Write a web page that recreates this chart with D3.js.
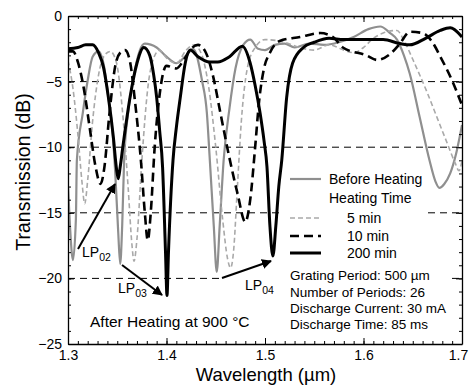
<!DOCTYPE html>
<html><head><meta charset="utf-8">
<script src="https://cdn.jsdelivr.net/npm/d3@7"></script>
<style>body{margin:0;background:#fff}svg{display:block}text{font-family:"Liberation Sans",Arial,sans-serif}</style>
</head><body>
<svg id="c" width="469" height="385"></svg>
<script>
const xTicks=[1.3,1.4,1.5,1.6,1.7];
const yTicks=[0,-5,-10,-15,-20,-25];
const gridLevels=[-5,-10,-15,-20];
const beforeHeating=[[1.300,-13],[1.302,-16],[1.305,-18.6],[1.308,-15.5],[1.309,-11],[1.315,-7.4],[1.32,-4.9],[1.325,-3.1],[1.331,-2.7],[1.336,-3.6],[1.341,-6.2],[1.345,-8.7],[1.348,-12],[1.351,-16.5],[1.353,-18.9],[1.355,-16],[1.357,-11],[1.361,-7.4],[1.366,-4.9],[1.373,-2.6],[1.378,-2.1],[1.39,-2.4],[1.40,-3.1],[1.41,-3.6],[1.42,-3.0],[1.427,-2.5],[1.436,-4.9],[1.441,-7.4],[1.444,-11],[1.448,-16],[1.451,-19.5],[1.454,-16],[1.458,-11],[1.464,-7],[1.47,-4.0],[1.478,-2.2],[1.485,-1.8],[1.493,-2.5],[1.50,-2.6],[1.51,-2.2],[1.52,-2.1],[1.53,-2.4],[1.545,-2.1],[1.56,-2.2],[1.575,-2.0],[1.59,-1.6],[1.605,-1.0],[1.617,-0.8],[1.627,-1.3],[1.634,-1.8],[1.641,-3.0],[1.647,-4.4],[1.657,-7.7],[1.667,-11],[1.673,-12.6],[1.677,-13.1],[1.682,-12.8],[1.688,-12],[1.694,-10.5],[1.70,-8.3]];
const min5=[[1.300,-3.4],[1.305,-5.5],[1.31,-9],[1.314,-12.5],[1.317,-14.3],[1.32,-12.5],[1.325,-8],[1.331,-4.5],[1.337,-3.0],[1.343,-2.7],[1.349,-3.5],[1.355,-7],[1.361,-13],[1.365,-17.5],[1.367,-18.7],[1.370,-17],[1.375,-11],[1.381,-5.5],[1.387,-3.2],[1.393,-2.6],[1.40,-3.2],[1.41,-3.6],[1.42,-2.6],[1.428,-2.2],[1.436,-3.0],[1.443,-5.5],[1.45,-10],[1.457,-15.5],[1.462,-18.5],[1.465,-19.2],[1.468,-18],[1.472,-13],[1.476,-8],[1.482,-4],[1.49,-2.4],[1.50,-1.8],[1.52,-2.0],[1.535,-2.4],[1.55,-2.6],[1.565,-2.2],[1.58,-2.6],[1.59,-2.8],[1.60,-2.4],[1.61,-1.7],[1.62,-1.3],[1.634,-1.1],[1.64,-1.7],[1.65,-3.3],[1.665,-5.9],[1.675,-7.8],[1.685,-9.7],[1.693,-11.2],[1.697,-11.8],[1.70,-11]];
const min10=[[1.300,-2.7],[1.305,-2.7],[1.31,-3.5],[1.316,-5.5],[1.322,-8.5],[1.328,-11.5],[1.333,-12.8],[1.337,-11.5],[1.342,-7.5],[1.348,-3.8],[1.353,-2.8],[1.358,-2.6],[1.363,-3.5],[1.368,-6.5],[1.374,-11],[1.378,-15],[1.381,-17.1],[1.384,-15],[1.388,-10],[1.393,-6],[1.40,-3.8],[1.41,-4.0],[1.418,-3.3],[1.425,-2.5],[1.432,-2.2],[1.44,-2.8],[1.447,-4.5],[1.455,-7.5],[1.463,-10.5],[1.472,-13.5],[1.48,-15.7],[1.485,-14],[1.49,-10],[1.494,-6.5],[1.499,-4],[1.505,-2.8],[1.515,-1.9],[1.5355,-1.6],[1.556,-1.3],[1.569,-1.6],[1.579,-2.4],[1.603,-3.0],[1.614,-3.35],[1.627,-2.9],[1.637,-2.1],[1.647,-1.2],[1.66,-1.3],[1.67,-2.0],[1.678,-3.1],[1.691,-5.1],[1.70,-6.8]];
const min200=[[1.300,-2.5],[1.31,-2.4],[1.318,-2.2],[1.325,-2.2],[1.331,-2.8],[1.336,-3.9],[1.341,-6.2],[1.346,-9.2],[1.349,-11.5],[1.351,-12.4],[1.353,-11.5],[1.356,-9.8],[1.363,-6.2],[1.37,-3.6],[1.377,-2.4],[1.383,-3.0],[1.387,-4.5],[1.39,-6.2],[1.393,-8.7],[1.396,-11.5],[1.399,-18],[1.4005,-21.3],[1.402,-18],[1.4066,-11],[1.41,-8.5],[1.414,-6.2],[1.419,-3.6],[1.424,-2.6],[1.432,-3.1],[1.444,-3.5],[1.452,-3.5],[1.464,-3.1],[1.477,-2.3],[1.485,-3.6],[1.49,-5.3],[1.495,-7.4],[1.499,-9.5],[1.502,-11.5],[1.505,-16],[1.508,-18.3],[1.511,-16],[1.514,-13],[1.517,-11],[1.522,-6.2],[1.528,-3.6],[1.539,-2.4],[1.55,-2.0],[1.565,-1.7],[1.58,-1.8],[1.60,-1.8],[1.62,-1.8],[1.637,-2.1],[1.647,-2.2],[1.663,-1.7],[1.678,-1.1],[1.688,-0.9],[1.70,-1.6]];
const legendLabels=["Before Heating","Heating Time","5 min","10 min","200 min"];
const infoLines=["Grating Period: 500 \u00b5m","Number of Periods: 26","Discharge Current: 30 mA","Discharge Time: 85 ms"];

const svg=d3.select("#c");
const x=d3.scaleLinear().domain([1.3,1.7]).range([68,462]);
const y=d3.scaleLinear().domain([-25,0]).range([344,16]);

// grid
svg.append("g").selectAll("line").data(gridLevels).join("line")
 .attr("x1",x(1.3)).attr("x2",x(1.7)).attr("y1",d=>y(d)).attr("y2",d=>y(d))
 .attr("stroke","#000").attr("stroke-width",1).attr("stroke-dasharray","7,5");
// white legend background boxes
svg.append("rect").attr("x",283).attr("y",166).attr("width",145).attr("height",100).attr("fill","#fff");
svg.append("rect").attr("x",283).attr("y",264).attr("width",168).attr("height",70).attr("fill","#fff");
svg.append("rect").attr("x",223).attr("y",272).attr("width",62).attr("height",26).attr("fill","#fff");

const line=d3.line().x(d=>x(d[0])).y(d=>y(d[1])).curve(d3.curveMonotoneX);
const series=[
 {d:beforeHeating,c:"#8f8f8f",w:2.2,da:null},
 {d:min5,c:"#a9a9a9",w:1.6,da:"5,3"},
 {d:min10,c:"#000",w:2.6,da:"9,5"},
 {d:min200,c:"#000",w:3,da:null}
];
svg.append("clipPath").attr("id","pc").append("rect").attr("x",68).attr("y",16).attr("width",394).attr("height",328);
svg.append("g").attr("clip-path","url(#pc)").selectAll("path").data(series).join("path")
 .attr("d",s=>line(s.d)).attr("fill","none").attr("stroke",s=>s.c).attr("stroke-width",s=>s.w)
 .attr("stroke-dasharray",s=>s.da).attr("stroke-linejoin","round");

// axes
const fmt=d3.format(".1f");
const minorX=d3.range(1.3,1.7001,0.01).map(v=>+v.toFixed(2));
const minorY=d3.range(-25,0.001,1);
svg.append("g").attr("transform","translate(0,344)").call(d3.axisBottom(x).tickValues(minorX).tickFormat("").tickSize(-3)).call(g=>g.select(".domain").remove());
svg.append("g").attr("transform","translate(0,16)").call(d3.axisTop(x).tickValues(minorX).tickFormat("").tickSize(-3)).call(g=>g.select(".domain").remove());
svg.append("g").attr("transform","translate(68,0)").call(d3.axisLeft(y).tickValues(minorY).tickFormat("").tickSize(-3)).call(g=>g.select(".domain").remove());
svg.append("g").attr("transform","translate(462,0)").call(d3.axisRight(y).tickValues(minorY).tickFormat("").tickSize(-3)).call(g=>g.select(".domain").remove());

const xa=svg.append("g").attr("transform","translate(0,344)").call(d3.axisBottom(x).tickValues(xTicks).tickFormat(fmt).tickSizeInner(-6).tickSizeOuter(0).tickPadding(6));
svg.append("g").attr("transform","translate(0,16)").call(d3.axisTop(x).tickValues(xTicks).tickFormat("").tickSizeInner(-6).tickSizeOuter(0));
svg.append("g").attr("transform","translate(68,0)").call(d3.axisLeft(y).tickValues(yTicks).tickFormat(d3.format("d")).tickSizeInner(-6).tickSizeOuter(0).tickPadding(6));
svg.append("g").attr("transform","translate(462,0)").call(d3.axisRight(y).tickValues(yTicks).tickFormat("").tickSizeInner(-6).tickSizeOuter(0));
svg.selectAll(".tick text").attr("font-size",14).attr("font-family","Liberation Sans, Arial, sans-serif").attr("fill","#000");
xa.selectAll(".tick text").filter(d=>d===1.7).attr("dx",-4);
svg.selectAll(".domain").attr("stroke","#000").attr("stroke-width",1.3);

// labels
svg.append("text").attr("x",266).attr("y",381).attr("text-anchor","middle").attr("font-size",18.5).text("Wavelength (\u00b5m)");
svg.append("text").attr("transform","translate(30,172) rotate(-90)").attr("text-anchor","middle").attr("font-size",19.5).text("Transmission (dB)");

// legend
const lg=svg.append("g");
const legRows=[{t:legendLabels[0],yy:179,s:series[0],tx:329},{t:legendLabels[1],yy:198,s:null,tx:329},{t:legendLabels[2],yy:218,s:series[1],tx:347},{t:legendLabels[3],yy:236,s:series[2],tx:347},{t:legendLabels[4],yy:253,s:series[3],tx:347}];
legRows.forEach(r=>{
 if(r.s) lg.append("line").attr("x1",290).attr("x2",321).attr("y1",r.yy).attr("y2",r.yy).attr("stroke",r.s.c).attr("stroke-width",r.s.w).attr("stroke-dasharray",r.s.da);
 lg.append("text").attr("x",r.tx).attr("y",r.yy+5).attr("font-size",14).text(r.t);
});
infoLines.forEach((t,i)=>svg.append("text").attr("x",290).attr("y",[275,292,308,324][i]+5).attr("font-size",13.5).text(t));
svg.append("text").attr("x",90).attr("y",327).attr("font-size",15.5).text("After Heating at 900 \u00b0C");

// LP labels
function lp(xp,yp,sub){const t=svg.append("text").attr("x",xp).attr("y",yp).attr("font-size",14);t.append("tspan").text("LP");t.append("tspan").attr("dy",4).attr("font-size",10.5).text(sub);}
lp(82,257,"02");lp(118,293,"03");lp(245,290,"04");

// arrows
svg.append("defs").append("marker").attr("id","ah").attr("viewBox","0 0 10 10").attr("refX",9).attr("refY",5).attr("markerWidth",5).attr("markerHeight",5).attr("orient","auto")
 .append("path").attr("d","M0,0L10,5L0,10z").attr("fill","#000");
[[78,249,115,184],[122,265,162,295],[222,278,271,261]].forEach(a=>svg.append("line").attr("x1",a[0]).attr("y1",a[1]).attr("x2",a[2]).attr("y2",a[3]).attr("stroke","#000").attr("stroke-width",2).attr("marker-end","url(#ah)"));
</script></body></html>
